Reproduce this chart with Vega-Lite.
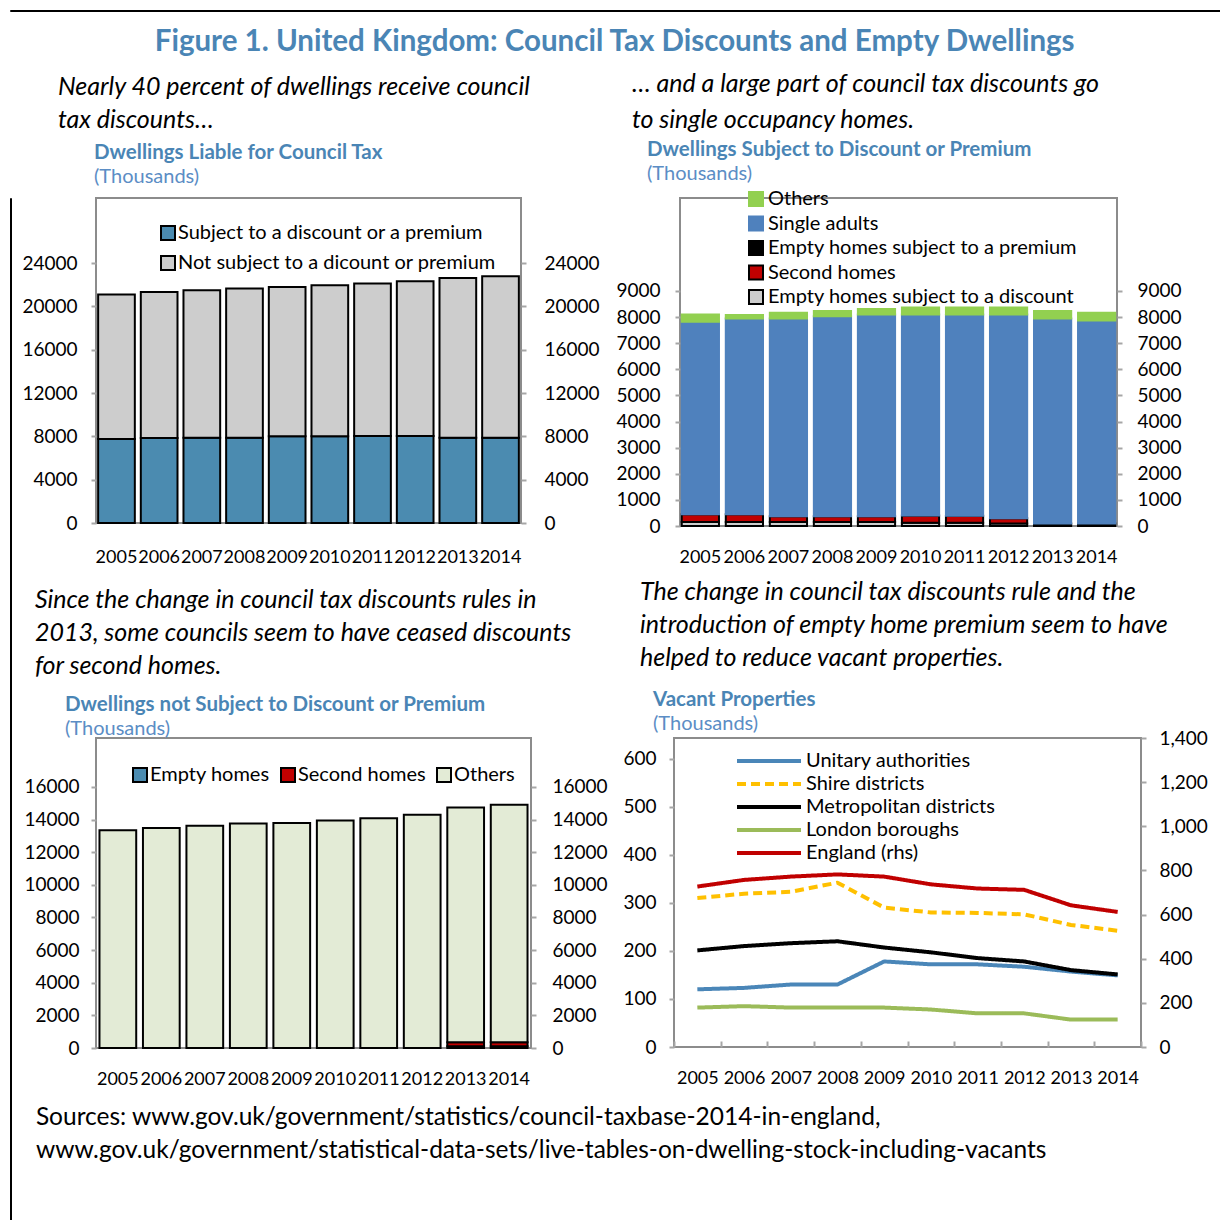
{
  "$schema": "https://vega.github.io/schema/vega-lite/v6.json",
  "padding": {"left": 9, "top": 9, "right": 0, "bottom": 0},
  "background": "white",
  "config": {
    "font": "Lato",
    "view": {"stroke": "#8c8c8c", "strokeWidth": 2},
    "axis": {"labelFont": "Lato", "labelColor": "black", "domain": false, "grid": false, "tickColor": "#a6a6a6", "tickWidth": 2, "tickSize": 5, "labelFontSize": 19},
    "legend": {"labelFont": "Lato", "labelFontSize": 20, "labelColor": "black", "labelLimit": 0, "padding": 0}
  },
  "datasets": {
    "liable": [
      {"year": "2005", "series": "Subject to a discount or a premium", "value": 7750, "k": 1},
      {"year": "2005", "series": "Not subject to a dicount or premium", "value": 13340, "k": 2},
      {"year": "2006", "series": "Subject to a discount or a premium", "value": 7850, "k": 1},
      {"year": "2006", "series": "Not subject to a dicount or premium", "value": 13480, "k": 2},
      {"year": "2007", "series": "Subject to a discount or a premium", "value": 7870, "k": 1},
      {"year": "2007", "series": "Not subject to a dicount or premium", "value": 13620, "k": 2},
      {"year": "2008", "series": "Subject to a discount or a premium", "value": 7880, "k": 1},
      {"year": "2008", "series": "Not subject to a dicount or premium", "value": 13760, "k": 2},
      {"year": "2009", "series": "Subject to a discount or a premium", "value": 8000, "k": 1},
      {"year": "2009", "series": "Not subject to a dicount or premium", "value": 13790, "k": 2},
      {"year": "2010", "series": "Subject to a discount or a premium", "value": 8010, "k": 1},
      {"year": "2010", "series": "Not subject to a dicount or premium", "value": 13940, "k": 2},
      {"year": "2011", "series": "Subject to a discount or a premium", "value": 8020, "k": 1},
      {"year": "2011", "series": "Not subject to a dicount or premium", "value": 14080, "k": 2},
      {"year": "2012", "series": "Subject to a discount or a premium", "value": 8030, "k": 1},
      {"year": "2012", "series": "Not subject to a dicount or premium", "value": 14290, "k": 2},
      {"year": "2013", "series": "Subject to a discount or a premium", "value": 7880, "k": 1},
      {"year": "2013", "series": "Not subject to a dicount or premium", "value": 14740, "k": 2},
      {"year": "2014", "series": "Subject to a discount or a premium", "value": 7870, "k": 1},
      {"year": "2014", "series": "Not subject to a dicount or premium", "value": 14910, "k": 2}
    ],
    "discount": [
      {"year": "2005", "series": "Empty homes subject to a discount", "value": 150, "k": 1},
      {"year": "2005", "series": "Second homes", "value": 300, "k": 2},
      {"year": "2005", "series": "Empty homes subject to a premium", "value": 0, "k": 3},
      {"year": "2005", "series": "Single adults", "value": 7370, "k": 4},
      {"year": "2005", "series": "Others", "value": 280, "k": 5},
      {"year": "2006", "series": "Empty homes subject to a discount", "value": 150, "k": 1},
      {"year": "2006", "series": "Second homes", "value": 300, "k": 2},
      {"year": "2006", "series": "Empty homes subject to a premium", "value": 0, "k": 3},
      {"year": "2006", "series": "Single adults", "value": 7500, "k": 4},
      {"year": "2006", "series": "Others", "value": 130, "k": 5},
      {"year": "2007", "series": "Empty homes subject to a discount", "value": 150, "k": 1},
      {"year": "2007", "series": "Second homes", "value": 220, "k": 2},
      {"year": "2007", "series": "Empty homes subject to a premium", "value": 0, "k": 3},
      {"year": "2007", "series": "Single adults", "value": 7580, "k": 4},
      {"year": "2007", "series": "Others", "value": 220, "k": 5},
      {"year": "2008", "series": "Empty homes subject to a discount", "value": 150, "k": 1},
      {"year": "2008", "series": "Second homes", "value": 220, "k": 2},
      {"year": "2008", "series": "Empty homes subject to a premium", "value": 0, "k": 3},
      {"year": "2008", "series": "Single adults", "value": 7660, "k": 4},
      {"year": "2008", "series": "Others", "value": 200, "k": 5},
      {"year": "2009", "series": "Empty homes subject to a discount", "value": 150, "k": 1},
      {"year": "2009", "series": "Second homes", "value": 220, "k": 2},
      {"year": "2009", "series": "Empty homes subject to a premium", "value": 0, "k": 3},
      {"year": "2009", "series": "Single adults", "value": 7730, "k": 4},
      {"year": "2009", "series": "Others", "value": 210, "k": 5},
      {"year": "2010", "series": "Empty homes subject to a discount", "value": 120, "k": 1},
      {"year": "2010", "series": "Second homes", "value": 280, "k": 2},
      {"year": "2010", "series": "Empty homes subject to a premium", "value": 0, "k": 3},
      {"year": "2010", "series": "Single adults", "value": 7700, "k": 4},
      {"year": "2010", "series": "Others", "value": 270, "k": 5},
      {"year": "2011", "series": "Empty homes subject to a discount", "value": 120, "k": 1},
      {"year": "2011", "series": "Second homes", "value": 270, "k": 2},
      {"year": "2011", "series": "Empty homes subject to a premium", "value": 0, "k": 3},
      {"year": "2011", "series": "Single adults", "value": 7710, "k": 4},
      {"year": "2011", "series": "Others", "value": 270, "k": 5},
      {"year": "2012", "series": "Empty homes subject to a discount", "value": 100, "k": 1},
      {"year": "2012", "series": "Second homes", "value": 200, "k": 2},
      {"year": "2012", "series": "Empty homes subject to a premium", "value": 0, "k": 3},
      {"year": "2012", "series": "Single adults", "value": 7800, "k": 4},
      {"year": "2012", "series": "Others", "value": 270, "k": 5},
      {"year": "2013", "series": "Empty homes subject to a discount", "value": 0, "k": 1},
      {"year": "2013", "series": "Second homes", "value": 0, "k": 2},
      {"year": "2013", "series": "Empty homes subject to a premium", "value": 100, "k": 3},
      {"year": "2013", "series": "Single adults", "value": 7850, "k": 4},
      {"year": "2013", "series": "Others", "value": 280, "k": 5},
      {"year": "2014", "series": "Empty homes subject to a discount", "value": 0, "k": 1},
      {"year": "2014", "series": "Second homes", "value": 0, "k": 2},
      {"year": "2014", "series": "Empty homes subject to a premium", "value": 100, "k": 3},
      {"year": "2014", "series": "Single adults", "value": 7770, "k": 4},
      {"year": "2014", "series": "Others", "value": 300, "k": 5}
    ],
    "notsubject": [
      {"year": "2005", "series": "Empty homes", "value": 0, "k": 1},
      {"year": "2005", "series": "Second homes", "value": 0, "k": 2},
      {"year": "2005", "series": "Others", "value": 13340, "k": 3},
      {"year": "2006", "series": "Empty homes", "value": 0, "k": 1},
      {"year": "2006", "series": "Second homes", "value": 0, "k": 2},
      {"year": "2006", "series": "Others", "value": 13480, "k": 3},
      {"year": "2007", "series": "Empty homes", "value": 0, "k": 1},
      {"year": "2007", "series": "Second homes", "value": 0, "k": 2},
      {"year": "2007", "series": "Others", "value": 13620, "k": 3},
      {"year": "2008", "series": "Empty homes", "value": 0, "k": 1},
      {"year": "2008", "series": "Second homes", "value": 0, "k": 2},
      {"year": "2008", "series": "Others", "value": 13760, "k": 3},
      {"year": "2009", "series": "Empty homes", "value": 0, "k": 1},
      {"year": "2009", "series": "Second homes", "value": 0, "k": 2},
      {"year": "2009", "series": "Others", "value": 13790, "k": 3},
      {"year": "2010", "series": "Empty homes", "value": 0, "k": 1},
      {"year": "2010", "series": "Second homes", "value": 0, "k": 2},
      {"year": "2010", "series": "Others", "value": 13940, "k": 3},
      {"year": "2011", "series": "Empty homes", "value": 0, "k": 1},
      {"year": "2011", "series": "Second homes", "value": 0, "k": 2},
      {"year": "2011", "series": "Others", "value": 14080, "k": 3},
      {"year": "2012", "series": "Empty homes", "value": 0, "k": 1},
      {"year": "2012", "series": "Second homes", "value": 0, "k": 2},
      {"year": "2012", "series": "Others", "value": 14290, "k": 3},
      {"year": "2013", "series": "Empty homes", "value": 100, "k": 1},
      {"year": "2013", "series": "Second homes", "value": 250, "k": 2},
      {"year": "2013", "series": "Others", "value": 14390, "k": 3},
      {"year": "2014", "series": "Empty homes", "value": 100, "k": 1},
      {"year": "2014", "series": "Second homes", "value": 250, "k": 2},
      {"year": "2014", "series": "Others", "value": 14560, "k": 3}
    ],
    "vacant": [
      {"year": "2005", "series": "Unitary authorities", "value": 120},
      {"year": "2006", "series": "Unitary authorities", "value": 123},
      {"year": "2007", "series": "Unitary authorities", "value": 130},
      {"year": "2008", "series": "Unitary authorities", "value": 130},
      {"year": "2009", "series": "Unitary authorities", "value": 178},
      {"year": "2010", "series": "Unitary authorities", "value": 172},
      {"year": "2011", "series": "Unitary authorities", "value": 172},
      {"year": "2012", "series": "Unitary authorities", "value": 167},
      {"year": "2013", "series": "Unitary authorities", "value": 157},
      {"year": "2014", "series": "Unitary authorities", "value": 149},
      {"year": "2005", "series": "Shire districts", "value": 310},
      {"year": "2006", "series": "Shire districts", "value": 319},
      {"year": "2007", "series": "Shire districts", "value": 323},
      {"year": "2008", "series": "Shire districts", "value": 342},
      {"year": "2009", "series": "Shire districts", "value": 290},
      {"year": "2010", "series": "Shire districts", "value": 280},
      {"year": "2011", "series": "Shire districts", "value": 279},
      {"year": "2012", "series": "Shire districts", "value": 276},
      {"year": "2013", "series": "Shire districts", "value": 254},
      {"year": "2014", "series": "Shire districts", "value": 242},
      {"year": "2005", "series": "Metropolitan districts", "value": 201},
      {"year": "2006", "series": "Metropolitan districts", "value": 210},
      {"year": "2007", "series": "Metropolitan districts", "value": 216},
      {"year": "2008", "series": "Metropolitan districts", "value": 220},
      {"year": "2009", "series": "Metropolitan districts", "value": 207},
      {"year": "2010", "series": "Metropolitan districts", "value": 197},
      {"year": "2011", "series": "Metropolitan districts", "value": 185},
      {"year": "2012", "series": "Metropolitan districts", "value": 178},
      {"year": "2013", "series": "Metropolitan districts", "value": 160},
      {"year": "2014", "series": "Metropolitan districts", "value": 151},
      {"year": "2005", "series": "London boroughs", "value": 82},
      {"year": "2006", "series": "London boroughs", "value": 85},
      {"year": "2007", "series": "London boroughs", "value": 82},
      {"year": "2008", "series": "London boroughs", "value": 82},
      {"year": "2009", "series": "London boroughs", "value": 82},
      {"year": "2010", "series": "London boroughs", "value": 78},
      {"year": "2011", "series": "London boroughs", "value": 70},
      {"year": "2012", "series": "London boroughs", "value": 70},
      {"year": "2013", "series": "London boroughs", "value": 57},
      {"year": "2014", "series": "London boroughs", "value": 57},
      {"year": "2005", "series": "England (rhs)", "value": 727},
      {"year": "2006", "series": "England (rhs)", "value": 757},
      {"year": "2007", "series": "England (rhs)", "value": 772},
      {"year": "2008", "series": "England (rhs)", "value": 782},
      {"year": "2009", "series": "England (rhs)", "value": 772},
      {"year": "2010", "series": "England (rhs)", "value": 737},
      {"year": "2011", "series": "England (rhs)", "value": 718},
      {"year": "2012", "series": "England (rhs)", "value": 712},
      {"year": "2013", "series": "England (rhs)", "value": 642},
      {"year": "2014", "series": "England (rhs)", "value": 612}
    ]
  },
  "spacing": 0,
  "vconcat": [
    {
      "width": 1210, "height": 1,
      "view": {"stroke": "black", "strokeWidth": 1},
      "data": {"values": [{}]},
      "mark": {"type": "point", "opacity": 0, "size": 0, "strokeWidth": 0},
      "encoding": {}
    },
    {
      "spacing": 8,
      "hconcat": [
        {
          "width": 1, "height": 1022,
          "view": {"stroke": "black", "strokeWidth": 1},
          "data": {"values": [{}]},
          "mark": {"type": "point", "opacity": 0, "size": 0, "strokeWidth": 0},
          "encoding": {}
        },
        {
          "title": {"text": [" ", "Figure 1. United Kingdom: Council Tax Discounts and Empty Dwellings"], "lineHeight": 15, "font": "Lato", "fontSize": 29.5, "fontWeight": "bold", "color": "#4a85b5", "anchor": "middle", "offset": 14},
          "spacing": 12,
          "resolve": {"scale": {"color": "independent", "stroke": "independent", "strokeDash": "independent", "strokeWidth": "independent"}, "legend": {"color": "independent", "stroke": "independent", "strokeDash": "independent", "strokeWidth": "independent"}},
          "vconcat": [
            {
              "spacing": 13,
              "resolve": {"scale": {"color": "independent", "stroke": "independent", "strokeDash": "independent", "strokeWidth": "independent"}, "legend": {"color": "independent", "stroke": "independent", "strokeDash": "independent", "strokeWidth": "independent"}},
              "hconcat": [
                {
                  "title": {"text": ["Nearly 40 percent of dwellings  receive  council", "tax discounts…"], "anchor": "start", "font": "Lato", "fontSize": 25, "fontStyle": "italic", "fontWeight": "normal", "color": "black", "lineHeight": 33, "offset": 9, "dx": 37},
                  "vconcat": [
                    {
                      "width": 425, "height": 325,
                      "title": {"text": "Dwellings Liable for Council Tax", "subtitle": "(Thousands)", "anchor": "start", "frame": "group", "font": "Lato", "fontSize": 20.5, "fontWeight": "bold", "color": "#4a85b5", "subtitleFont": "Lato", "subtitleFontSize": 20, "subtitleColor": "#5b8dc5", "subtitlePadding": 4, "offset": 11, "dx": -2},
                      "data": {"name": "liable"},
                      "layer": [
                        {
                          "mark": {"type": "bar", "stroke": "black", "strokeWidth": 2},
                          "encoding": {
                            "x": {"field": "year", "type": "ordinal", "scale": {"paddingInner": 0.14, "paddingOuter": 0.05}, "axis": {"title": null, "labelAngle": 0, "ticks": false, "labelPadding": 25, "labelOverlap": false, "labelFontSize": 18}},
                            "y": {"field": "value", "type": "quantitative", "stack": "zero", "scale": {"domain": [0, 30000]}, "axis": {"title": null, "values": [0, 4000, 8000, 12000, 16000, 20000, 24000], "format": "d", "labelPadding": 14}},
                            "color": {"field": "series", "type": "nominal", "scale": {"domain": ["Subject to a discount or a premium", "Not subject to a dicount or premium"], "range": ["#4b8bb0", "#cdcdcd"]}, "legend": {"orient": "none", "legendX": 62, "legendY": 25, "title": null, "symbolType": "square", "symbolSize": 196, "symbolStrokeColor": "black", "symbolStrokeWidth": 2, "rowPadding": 8, "labelOffset": 0}},
                            "order": {"field": "k", "type": "quantitative"}
                          }
                        },
                        {
                          "mark": {"type": "rule", "opacity": 0},
                          "encoding": {
                            "y": {"field": "value", "type": "quantitative", "stack": null, "scale": {"domain": [0, 30000]}, "axis": {"orient": "right", "title": null, "values": [0, 4000, 8000, 12000, 16000, 20000, 24000], "format": "d", "labelPadding": 18}}
                          }
                        }
                      ],
                      "resolve": {"scale": {"y": "independent"}}
                    }
                  ]
                },
                {
                  "title": {"text": ["… and a large part of council tax discounts go", "to single occupancy homes."], "anchor": "start", "font": "Lato", "fontSize": 25, "fontStyle": "italic", "fontWeight": "normal", "color": "black", "lineHeight": 36, "offset": 6, "dx": 17},
                  "vconcat": [
                    {
                      "width": 437, "height": 328,
                      "title": {"text": "Dwellings Subject to Discount or Premium", "subtitle": "(Thousands)", "anchor": "start", "frame": "group", "font": "Lato", "fontSize": 20.5, "fontWeight": "bold", "color": "#4a85b5", "subtitleFont": "Lato", "subtitleFontSize": 20, "subtitleColor": "#5b8dc5", "subtitlePadding": 4, "offset": 14, "dx": -33},
                      "data": {"name": "discount"},
                      "layer": [
                        {
                          "mark": {"type": "bar", "strokeWidth": 2},
                          "encoding": {
                            "x": {"field": "year", "type": "ordinal", "scale": {"paddingInner": 0.155, "paddingOuter": 0.04}, "axis": {"title": null, "labelAngle": 0, "ticks": false, "labelPadding": 22, "labelOverlap": false, "labelFontSize": 18}},
                            "y": {"field": "value", "type": "quantitative", "stack": "zero", "scale": {"domain": [0, 12560]}, "axis": {"title": null, "values": [0, 1000, 2000, 3000, 4000, 5000, 6000, 7000, 8000, 9000], "format": "d", "labelPadding": 15}},
                            "color": {"field": "series", "type": "nominal", "scale": {"domain": ["Others", "Single adults", "Empty homes subject to a premium", "Second homes", "Empty homes subject to a discount"], "range": ["#92d050", "#4f81bd", "#000000", "#c00000", "#cdcdcd"]}, "legend": {"orient": "none", "legendX": 66, "legendY": -9, "title": null, "symbolType": "square", "symbolSize": 196, "symbolStrokeWidth": 2, "rowPadding": 2.5, "labelOffset": 2}},
                            "stroke": {"field": "series", "type": "nominal", "scale": {"domain": ["Others", "Single adults", "Empty homes subject to a premium", "Second homes", "Empty homes subject to a discount"], "range": ["#92d050", "#4f81bd", "#000000", "#000000", "#000000"]}, "legend": {"orient": "none", "legendX": 66, "legendY": -9, "title": null, "symbolType": "square", "symbolSize": 196, "symbolStrokeWidth": 2, "rowPadding": 2.5, "labelOffset": 2}},
                            "order": {"field": "k", "type": "quantitative"}
                          }
                        },
                        {
                          "mark": {"type": "rule", "opacity": 0},
                          "encoding": {
                            "y": {"field": "value", "type": "quantitative", "stack": null, "scale": {"domain": [0, 12560]}, "axis": {"orient": "right", "title": null, "values": [0, 1000, 2000, 3000, 4000, 5000, 6000, 7000, 8000, 9000], "format": "d", "labelPadding": 15}}
                          }
                        }
                      ],
                      "resolve": {"scale": {"y": "independent"}}
                    }
                  ]
                }
              ]
            },
            {
              "spacing": 12,
              "resolve": {"scale": {"color": "independent", "stroke": "independent", "strokeDash": "independent", "strokeWidth": "independent"}, "legend": {"color": "independent", "stroke": "independent", "strokeDash": "independent", "strokeWidth": "independent"}},
              "title": {"text": ["Sources: www.gov.uk/government/statistics/council-taxbase-2014-in-england,", "www.gov.uk/government/statistical-data-sets/live-tables-on-dwelling-stock-including-vacants"], "orient": "bottom", "anchor": "start", "font": "Lato", "fontSize": 24.5, "fontWeight": "normal", "color": "black", "lineHeight": 33, "offset": 17, "dx": 13},
              "hconcat": [
                {
                  "title": {"text": ["Since the change in council tax discounts rules in", "2013,  some councils seem to have ceased discounts", "for second homes."], "anchor": "start", "font": "Lato", "fontSize": 25, "fontStyle": "italic", "fontWeight": "normal", "color": "black", "lineHeight": 33, "offset": 15, "dx": 12},
                  "vconcat": [
                    {
                      "width": 435, "height": 310,
                      "title": {"text": "Dwellings not Subject to Discount or Premium", "subtitle": "(Thousands)", "anchor": "start", "frame": "group", "font": "Lato", "fontSize": 20.5, "fontWeight": "bold", "color": "#4a85b5", "subtitleFont": "Lato", "subtitleFontSize": 20, "subtitleColor": "#5b8dc5", "subtitlePadding": 4, "offset": -1, "dx": -31},
                      "data": {"name": "notsubject"},
                      "layer": [
                        {
                          "mark": {"type": "bar", "stroke": "black", "strokeWidth": 2},
                          "encoding": {
                            "x": {"field": "year", "type": "ordinal", "scale": {"paddingInner": 0.155, "paddingOuter": 0.08}, "axis": {"title": null, "labelAngle": 0, "ticks": false, "labelPadding": 22, "labelOverlap": false, "labelFontSize": 18}},
                            "y": {"field": "value", "type": "quantitative", "stack": "zero", "scale": {"domain": [0, 19000]}, "axis": {"title": null, "values": [0, 2000, 4000, 6000, 8000, 10000, 12000, 14000, 16000], "format": "d", "labelPadding": 12}},
                            "color": {"field": "series", "type": "nominal", "scale": {"domain": ["Empty homes", "Second homes", "Others"], "range": ["#4b8bb0", "#c00000", "#e3ebd6"]}, "legend": {"orient": "none", "legendX": 34, "legendY": 27, "direction": "horizontal", "columns": 3, "columnPadding": 7, "title": null, "symbolType": "square", "symbolSize": 196, "symbolStrokeColor": "black", "symbolStrokeWidth": 2, "labelOffset": 0}},
                            "order": {"field": "k", "type": "quantitative"}
                          }
                        },
                        {
                          "mark": {"type": "rule", "opacity": 0},
                          "encoding": {
                            "y": {"field": "value", "type": "quantitative", "stack": null, "scale": {"domain": [0, 19000]}, "axis": {"orient": "right", "title": null, "values": [0, 2000, 4000, 6000, 8000, 10000, 12000, 14000, 16000], "format": "d", "labelPadding": 16}}
                          }
                        }
                      ],
                      "resolve": {"scale": {"y": "independent"}}
                    }
                  ]
                },
                {
                  "title": {"text": ["The change in council tax discounts rule and the", "introduction of empty home premium seem to have", "helped to reduce vacant properties."], "anchor": "start", "font": "Lato", "fontSize": 25, "fontStyle": "italic", "fontWeight": "normal", "color": "black", "lineHeight": 33, "offset": 18, "dx": 18},
                  "vconcat": [
                    {
                      "width": 467, "height": 309,
                      "title": {"text": "Vacant Properties", "subtitle": "(Thousands)", "anchor": "start", "frame": "group", "font": "Lato", "fontSize": 20.5, "fontWeight": "bold", "color": "#4a85b5", "subtitleFont": "Lato", "subtitleFontSize": 20, "subtitleColor": "#5b8dc5", "subtitlePadding": 4, "offset": -5, "dx": -21},
                      "data": {"name": "vacant"},
                      "layer": [
                        {
                          "transform": [{"filter": "datum.series !== 'England (rhs)'"}],
                          "mark": {"type": "line", "strokeJoin": "round"},
                          "encoding": {
                            "x": {"field": "year", "type": "ordinal", "bandPosition": 0.5, "scale": {"type": "band", "paddingInner": 0, "paddingOuter": 0}, "axis": {"title": null, "labelAngle": 0, "tickBand": "extent", "tickSize": -6, "labelPadding": 28, "labelOverlap": false, "labelFontSize": 18}},
                            "y": {"field": "value", "type": "quantitative", "scale": {"domain": [0, 643]}, "axis": {"title": null, "values": [0, 100, 200, 300, 400, 500, 600], "format": "d", "labelPadding": 13}},
                            "color": {"field": "series", "type": "nominal", "scale": {"domain": ["Unitary authorities", "Shire districts", "Metropolitan districts", "London boroughs", "England (rhs)"], "range": ["#4a86b8", "#ffc000", "#000000", "#9bbb59", "#c00000"]}, "legend": {"orient": "none", "legendX": 109, "legendY": 13, "title": null, "symbolType": "M-7,0H1", "symbolSize": 256, "rowPadding": 3, "labelOffset": 3}},
                            "strokeDash": {"field": "series", "type": "nominal", "scale": {"domain": ["Unitary authorities", "Shire districts", "Metropolitan districts", "London boroughs", "England (rhs)"], "range": [[1, 0], [9, 5], [1, 0], [1, 0], [1, 0]]}, "legend": {"orient": "none", "legendX": 109, "legendY": 13, "title": null, "symbolType": "M-7,0H1", "symbolSize": 256, "rowPadding": 3, "labelOffset": 3}},
                            "strokeWidth": {"field": "series", "type": "nominal", "scale": {"domain": ["Unitary authorities", "Shire districts", "Metropolitan districts", "London boroughs", "England (rhs)"], "range": [4, 4, 4, 4, 6]}, "legend": {"orient": "none", "legendX": 109, "legendY": 13, "title": null, "symbolType": "M-7,0H1", "symbolSize": 256, "rowPadding": 3, "labelOffset": 3}}
                          }
                        },
                        {
                          "transform": [{"filter": "datum.series === 'England (rhs)'"}],
                          "mark": {"type": "line", "strokeJoin": "round"},
                          "encoding": {
                            "x": {"field": "year", "type": "ordinal", "bandPosition": 0.5},
                            "y": {"field": "value", "type": "quantitative", "scale": {"domain": [0, 1400]}, "axis": {"orient": "right", "title": null, "values": [0, 200, 400, 600, 800, 1000, 1200, 1400], "format": ",d", "labelPadding": 13}},
                            "color": {"field": "series", "type": "nominal"},
                            "strokeDash": {"field": "series", "type": "nominal"},
                            "strokeWidth": {"field": "series", "type": "nominal"}
                          }
                        }
                      ],
                      "resolve": {"scale": {"y": "independent"}}
                    }
                  ]
                }
              ]
            }
          ]
        }
      ]
    }
  ]
}
